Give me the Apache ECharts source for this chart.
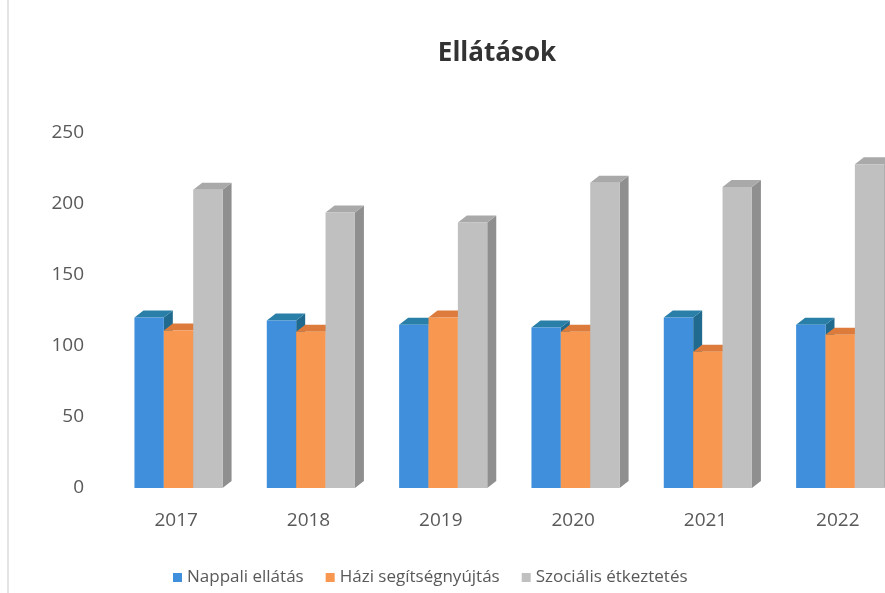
<!DOCTYPE html>
<html>
<head>
<meta charset="utf-8">
<script src="https://cdn.jsdelivr.net/npm/echarts@6/dist/echarts.min.js"></script>
<style>
  html, body { margin: 0; padding: 0; background: #fff; }
  #chart { width: 885px; height: 593px; }
</style>
</head>
<body>
<div id="chart"></div>
<script>
const years = ['2017', '2018', '2019', '2020', '2021', '2022'];
const nappali = [120, 118, 115, 113, 120, 115];
const hazi = [111, 110, 120, 110, 96, 108];
const szocialis = [210, 194, 187, 215, 212, 228];
const yTicks = [0, 50, 100, 150, 200, 250];

// front / top / side shades for each series
const shades = [
  { front: '#3f8fdc', top: '#2a7fa8', side: '#1f6a8e' },
  { front: '#f8974f', top: '#dc7b3c', side: '#c46a33' },
  { front: '#c0c0c0', top: '#a9a9a9', side: '#8f8f8f' }
];

const depthX = 9;
const depthY = 7;

function make3dBar(seriesIndex) {
  return function (params, api) {
    const idx = api.value(0);
    const top = api.coord([idx, api.value(1)]);
    const base = api.coord([idx, 0]);
    const band = api.size([1, 0])[0];
    const w = band * 0.222;
    const x0 = top[0] - w * 1.42 + seriesIndex * w;
    const x1 = x0 + w;
    const yT = top[1];
    const yB = base[1];
    const c = shades[seriesIndex];
    return {
      type: 'group',
      children: [
        {
          type: 'polygon',
          shape: { points: [[x1, yT], [x1 + depthX, yT - depthY], [x1 + depthX, yB - depthY], [x1, yB]] },
          style: { fill: c.side }
        },
        {
          type: 'polygon',
          shape: { points: [[x0, yT], [x1, yT], [x1 + depthX, yT - depthY], [x0 + depthX, yT - depthY]] },
          style: { fill: c.top }
        },
        {
          type: 'rect',
          shape: { x: x0, y: yT, width: w, height: yB - yT },
          style: { fill: c.front }
        }
      ]
    };
  };
}

function toData(arr) {
  return arr.map((v, i) => [i, v]);
}

const chart = echarts.init(document.getElementById('chart'));
chart.setOption({
  animation: false,
  textStyle: { fontFamily: 'Open Sans' },
  title: {
    text: 'Ellátások',
    left: 492,
    top: 36,
    textAlign: 'center',
    textStyle: { fontFamily: 'Open Sans', fontWeight: 'bold', fontSize: 26, color: '#333' }
  },
  graphic: [{
    type: 'line',
    shape: { x1: 8, y1: 0, x2: 8, y2: 593 },
    style: { stroke: '#e4e4e4', lineWidth: 2 }
  }],
  legend: {
    bottom: 2,
    left: 168,
    icon: 'rect',
    itemWidth: 9,
    itemHeight: 9,
    itemGap: 22,
    textStyle: { fontSize: 17, color: '#595959', fontFamily: 'Open Sans' },
    data: ['Nappali ellátás', 'Házi segítségnyújtás', 'Szociális étkeztetés']
  },
  grid: { left: 110, width: 794, top: 133, bottom: 105, outerBoundsMode: 'none', containLabel: false },
  xAxis: {
    type: 'category',
    data: years,
    axisLine: { show: false },
    axisTick: { show: false },
    axisLabel: { fontSize: 19, color: '#595959', margin: 23 }
  },
  yAxis: {
    type: 'value',
    min: yTicks[0],
    max: yTicks[yTicks.length - 1],
    interval: 50,
    axisLine: { show: false },
    axisTick: { show: false },
    splitLine: { show: false },
    axisLabel: { fontSize: 19, color: '#595959', margin: 26 }
  },
  series: [
    {
      name: 'Nappali ellátás', type: 'custom', renderItem: make3dBar(0),
      itemStyle: { color: shades[0].front }, encode: { x: 0, y: 1 }, data: toData(nappali)
    },
    {
      name: 'Házi segítségnyújtás', type: 'custom', renderItem: make3dBar(1),
      itemStyle: { color: shades[1].front }, encode: { x: 0, y: 1 }, data: toData(hazi)
    },
    {
      name: 'Szociális étkeztetés', type: 'custom', renderItem: make3dBar(2),
      itemStyle: { color: shades[2].front }, encode: { x: 0, y: 1 }, data: toData(szocialis)
    }
  ]
});
</script>
</body>
</html>
